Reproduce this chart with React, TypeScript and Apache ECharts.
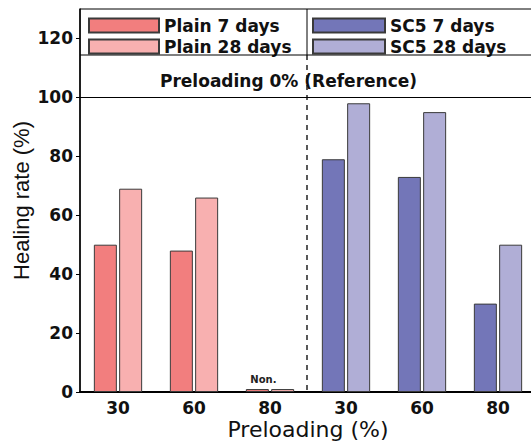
import React, { useEffect, useRef } from "react";
import * as echarts from "echarts";

const categories = ["30", "60", "80", "30", "60", "80"];
const plain7 = [50, 48, 1, "-", "-", "-"];
const plain28 = [69, 66, 1, "-", "-", "-"];
const sc5_7 = ["-", "-", "-", 79, 73, 30];
const sc5_28 = ["-", "-", "-", 98, 95, 50];
const referenceValue = 100;
const yTicks = [0, 20, 40, 60, 80, 100, 120];

const WIDE = "'DejaVu Sans', Verdana, sans-serif";
const FONT = "'Liberation Sans', Arial, sans-serif";
const C_P7 = "#F27E7E";
const C_P28 = "#F8B0B0";
const C_S7 = "#7376B8";
const C_S28 = "#B0AED6";
const BORDER = "#3a3a3a";

export default function App() {
  const ref = useRef<HTMLDivElement>(null);
  useEffect(() => {
    const chart = echarts.init(ref.current!, null, { renderer: "svg" });
    const barCommon = {
      type: "bar",
      barWidth: 23,
      barGap: "10%",
      itemStyle: { borderColor: BORDER, borderWidth: 1 },
    };
    const legendText = {
      fontFamily: WIDE,
      fontWeight: "bold",
      fontSize: 17,
      color: "#111",
      lineHeight: 14,
    };
    chart.setOption({
      animation: false,
      grid: {
        left: 80,
        top: 9,
        right: -5,
        bottom: 51,
        outerBoundsMode: "none",
        containLabel: false,
        show: true,
        borderColor: "#000",
        borderWidth: 1,
      },
      legend: [
        {
          data: ["Plain 7 days", "Plain 28 days"],
          orient: "vertical",
          left: 88,
          top: 17,
          icon: "rect",
          itemWidth: 70,
          itemHeight: 14,
          itemGap: 4,
          padding: 0,
          textStyle: legendText,
        },
        {
          data: ["SC5 7 days", "SC5 28 days"],
          orient: "vertical",
          left: 312,
          top: 17,
          icon: "rect",
          itemWidth: 72,
          itemHeight: 14,
          itemGap: 4,
          padding: 0,
          textStyle: legendText,
        },
      ],
      xAxis: {
        type: "category",
        data: categories,
        axisLine: { lineStyle: { color: "#000", width: 2 } },
        axisTick: { show: false },
        axisLabel: {
          fontFamily: WIDE,
          fontWeight: "bold",
          fontSize: 17,
          color: "#111",
          margin: 7,
        },
        name: "Preloading (%)",
        nameLocation: "middle",
        nameGap: 25,
        nameMoveOverlap: false,
        nameTextStyle: { fontFamily: WIDE, fontSize: 22, color: "#111", lineHeight: 24 },
      },
      yAxis: {
        type: "value",
        min: 0,
        max: 130,
        interval: 20,
        splitLine: { show: false },
        axisLine: { show: true, lineStyle: { color: "#000", width: 1.5 } },
        axisTick: { show: true, inside: false, length: 4, lineStyle: { color: "#000" } },
        axisLabel: {
          fontFamily: WIDE,
          fontWeight: "bold",
          fontSize: 17,
          color: "#111",
          margin: 7,
          showMaxLabel: false,
          formatter: (v: number) => (yTicks.includes(v) ? String(v) : ""),
        },
        name: "Healing rate (%)",
        nameLocation: "middle",
        nameGap: 48,
        nameMoveOverlap: false,
        nameTextStyle: { fontFamily: FONT, fontSize: 22, color: "#111" },
      },
      series: [
        {
          ...barCommon,
          name: "Plain 7 days",
          stack: "d7",
          data: plain7.map((v, i) =>
            i === 2
              ? {
                  value: v,
                  label: {
                    show: true,
                    position: "top",
                    formatter: "Non.",
                    offset: [6, 0],
                    fontFamily: WIDE,
                    fontWeight: "bold",
                    fontSize: 10,
                    color: "#222",
                  },
                }
              : v
          ),
          itemStyle: { ...barCommon.itemStyle, color: C_P7 },
          markLine: {
            symbol: "none",
            silent: true,
            label: { show: false },
            lineStyle: { color: "#000", type: "solid", width: 1 },
            data: [{ yAxis: referenceValue }],
          },
        },
        {
          ...barCommon,
          name: "Plain 28 days",
          stack: "d28",
          data: plain28,
          itemStyle: { ...barCommon.itemStyle, color: C_P28 },
        },
        {
          ...barCommon,
          name: "SC5 7 days",
          stack: "d7",
          data: sc5_7,
          itemStyle: { ...barCommon.itemStyle, color: C_S7 },
        },
        {
          ...barCommon,
          name: "SC5 28 days",
          stack: "d28",
          data: sc5_28,
          itemStyle: { ...barCommon.itemStyle, color: C_S28 },
        },
      ],
      graphic: [
        {
          type: "line",
          shape: { x1: 80, y1: 55, x2: 531, y2: 55 },
          style: { stroke: "#000", lineWidth: 1 },
          z: 10,
        },
        {
          type: "line",
          shape: { x1: 307, y1: 9, x2: 307, y2: 55 },
          style: { stroke: "#000", lineWidth: 1 },
          z: 10,
        },
        {
          type: "line",
          shape: { x1: 307, y1: 55, x2: 307, y2: 391 },
          style: { stroke: "#000", lineWidth: 1.3, lineDash: [5, 5] },
          z: 10,
        },
        {
          type: "text",
          left: 160,
          top: 72,
          style: {
            text: "Preloading 0% (Reference)",
            font: `bold 17px ${WIDE}`,
            fill: "#111",
          },
          z: 10,
        },
      ],
    });
    return () => chart.dispose();
  }, []);
  return (
    <div
      ref={ref}
      style={{ position: "fixed", left: 0, top: 0, width: 531, height: 443, background: "#fff" }}
    />
  );
}
